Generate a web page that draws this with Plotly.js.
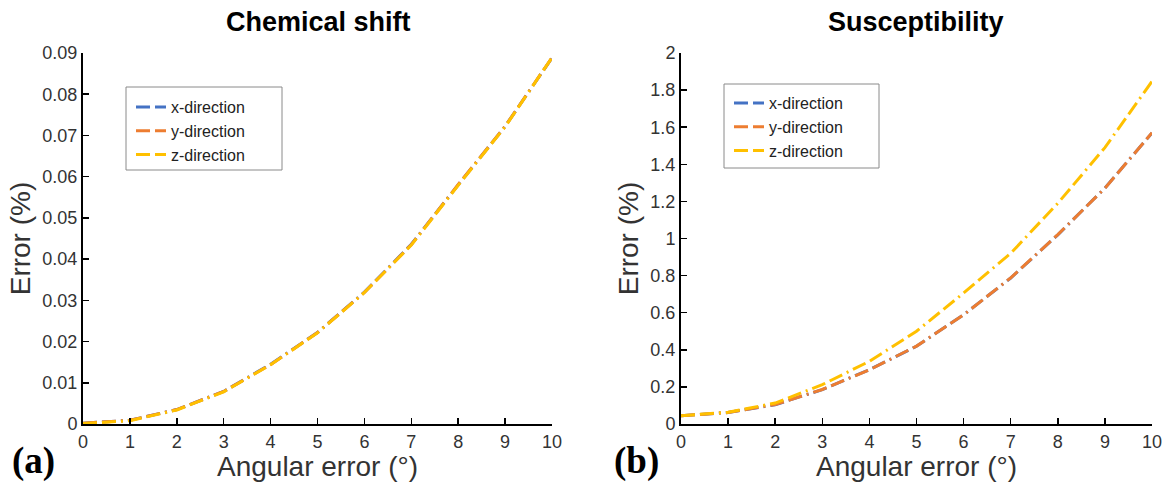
<!DOCTYPE html>
<html>
<head>
<meta charset="utf-8">
<script src="https://cdn.plot.ly/plotly-3.0.1.min.js"></script>
<style>html,body{margin:0;padding:0;background:#fff;}#chart{width:1165px;height:482px;}</style>
</head>
<body>
<div id="chart"></div>
<script>
// ---- data ----
var angle = [0, 1, 2, 3, 4, 5, 6, 7, 8, 9, 10];
var seriesNames = ['x-direction', 'y-direction', 'z-direction'];
var seriesColors = ['#4472C4', '#ED7D31', '#FFC000'];

// Chemical shift error (%)
var csX = [0.0002, 0.0009, 0.0035, 0.0079, 0.0145, 0.0222, 0.0320, 0.0436, 0.0580, 0.0722, 0.0888];
var csY = [0.0002, 0.0009, 0.0035, 0.0079, 0.0144, 0.0222, 0.0319, 0.0435, 0.0581, 0.0722, 0.0889];
var csZ = [0.0001, 0.0008, 0.0034, 0.0078, 0.0144, 0.0221, 0.0319, 0.0434, 0.0579, 0.0721, 0.0889];

// Susceptibility error (%)
var suX = [0.045, 0.062, 0.104, 0.185, 0.293, 0.419, 0.589, 0.787, 1.020, 1.272, 1.569];
var suY = [0.045, 0.062, 0.105, 0.186, 0.292, 0.420, 0.588, 0.788, 1.021, 1.271, 1.570];
var suZ = [0.045, 0.063, 0.113, 0.212, 0.338, 0.500, 0.706, 0.920, 1.190, 1.490, 1.847];

var titles = ['Chemical shift', 'Susceptibility'];
var xTitle = 'Angular error (°)';
var yTitle = 'Error (%)';
var panelLabels = ['(a)', '(b)'];

// ---- traces ----
var dashPattern = '14px,5px,14px,5px,2px,5px';
function mk(x, y, i, xa, ya, leg) {
  return {
    x: x, y: y, type: 'scatter', mode: 'lines',
    name: seriesNames[i], xaxis: xa, yaxis: ya, legend: leg,
    line: {color: seriesColors[i], width: 3, dash: dashPattern},
    hoverinfo: 'x+y+name'
  };
}
var data = [
  mk(angle, csX, 0, 'x', 'y', 'legend'),
  mk(angle, csY, 1, 'x', 'y', 'legend'),
  mk(angle, csZ, 2, 'x', 'y', 'legend'),
  mk(angle, suX, 0, 'x2', 'y2', 'legend2'),
  mk(angle, suY, 1, 'x2', 'y2', 'legend2'),
  mk(angle, suZ, 2, 'x2', 'y2', 'legend2')
];

var tickFont = {family: 'Liberation Sans, Arial, sans-serif', size: 18, color: '#333'};
var axTitleFont = {family: 'Liberation Sans, Arial, sans-serif', size: 28, color: '#333'};
function xax(domain, anchor) {
  return {
    domain: domain, anchor: anchor, range: [0, 10], dtick: 1, tick0: 0,
    showline: true, linecolor: '#000', linewidth: 2, mirror: false,
    ticks: 'inside', ticklen: 6, tickwidth: 1.5, tickcolor: '#000',
    showgrid: false, zeroline: false, tickfont: tickFont,
    title: {text: xTitle, font: axTitleFont, standoff: 3},
    automargin: false, fixedrange: true
  };
}
function yax(domain, anchor, range, dtick) {
  return {
    domain: domain, anchor: anchor, range: range, dtick: dtick, tick0: 0,
    showline: true, linecolor: '#000', linewidth: 2, mirror: false,
    ticks: 'inside', ticklen: 6, tickwidth: 1.5, tickcolor: '#000',
    showgrid: false, zeroline: false, tickfont: tickFont,
    title: {text: yTitle, font: axTitleFont, standoff: 4},
    automargin: false, fixedrange: true
  };
}
var yDom = [58 / 482, 429 / 482];
var legendFont = {family: 'Liberation Sans, Arial, sans-serif', size: 16, color: '#222'};

var layout = {
  width: 1165, height: 482,
  margin: {l: 0, r: 0, t: 0, b: 0},
  paper_bgcolor: '#fff', plot_bgcolor: '#fff',
  showlegend: true,
  xaxis: xax([83 / 1165, 552 / 1165], 'y'),
  yaxis: yax(yDom, 'x', [0, 0.09], 0.01),
  xaxis2: xax([681 / 1165, 1152 / 1165], 'y2'),
  yaxis2: yax(yDom, 'x2', [0, 2], 0.2),
  legend: {
    x: 131 / 1165, y: (482 - 90) / 482, xanchor: 'left', yanchor: 'top',
    bgcolor: 'rgba(0,0,0,0)', borderwidth: 0, font: legendFont, tracegroupgap: 0
  },
  legend2: {
    x: 729 / 1165, y: (482 - 86) / 482, xanchor: 'left', yanchor: 'top',
    bgcolor: 'rgba(0,0,0,0)', borderwidth: 0, font: legendFont, tracegroupgap: 0
  },
  shapes: [
    {type: 'rect', xref: 'paper', yref: 'paper', x0: 126 / 1165, x1: 282 / 1165,
     y0: (482 - 170) / 482, y1: (482 - 87) / 482, line: {color: '#8a8a8a', width: 1}, fillcolor: 'rgba(0,0,0,0)'},
    {type: 'rect', xref: 'paper', yref: 'paper', x0: 724 / 1165, x1: 879 / 1165,
     y0: (482 - 168) / 482, y1: (482 - 84) / 482, line: {color: '#8a8a8a', width: 1}, fillcolor: 'rgba(0,0,0,0)'}
  ],
  annotations: [
    {text: '<b>' + titles[0] + '</b>', xref: 'paper', yref: 'paper', x: 318 / 1165, y: (482 - 22) / 482,
     xanchor: 'center', yanchor: 'middle', showarrow: false,
     font: {family: 'Liberation Sans, Arial, sans-serif', size: 27, color: '#000'}},
    {text: '<b>' + titles[1] + '</b>', xref: 'paper', yref: 'paper', x: 916 / 1165, y: (482 - 22) / 482,
     xanchor: 'center', yanchor: 'middle', showarrow: false,
     font: {family: 'Liberation Sans, Arial, sans-serif', size: 27, color: '#000'}},
    {text: '<b>' + panelLabels[0] + '</b>', xref: 'paper', yref: 'paper', x: 33 / 1165, y: (482 - 461) / 482,
     xanchor: 'center', yanchor: 'middle', showarrow: false,
     font: {family: 'Liberation Serif, Times New Roman, serif', size: 37, color: '#000'}},
    {text: '<b>' + panelLabels[1] + '</b>', xref: 'paper', yref: 'paper', x: 636 / 1165, y: (482 - 461) / 482,
     xanchor: 'center', yanchor: 'middle', showarrow: false,
     font: {family: 'Liberation Serif, Times New Roman, serif', size: 37, color: '#000'}}
  ]
};

Plotly.newPlot('chart', data, layout, {displayModeBar: false, staticPlot: true});
</script>
</body>
</html>
